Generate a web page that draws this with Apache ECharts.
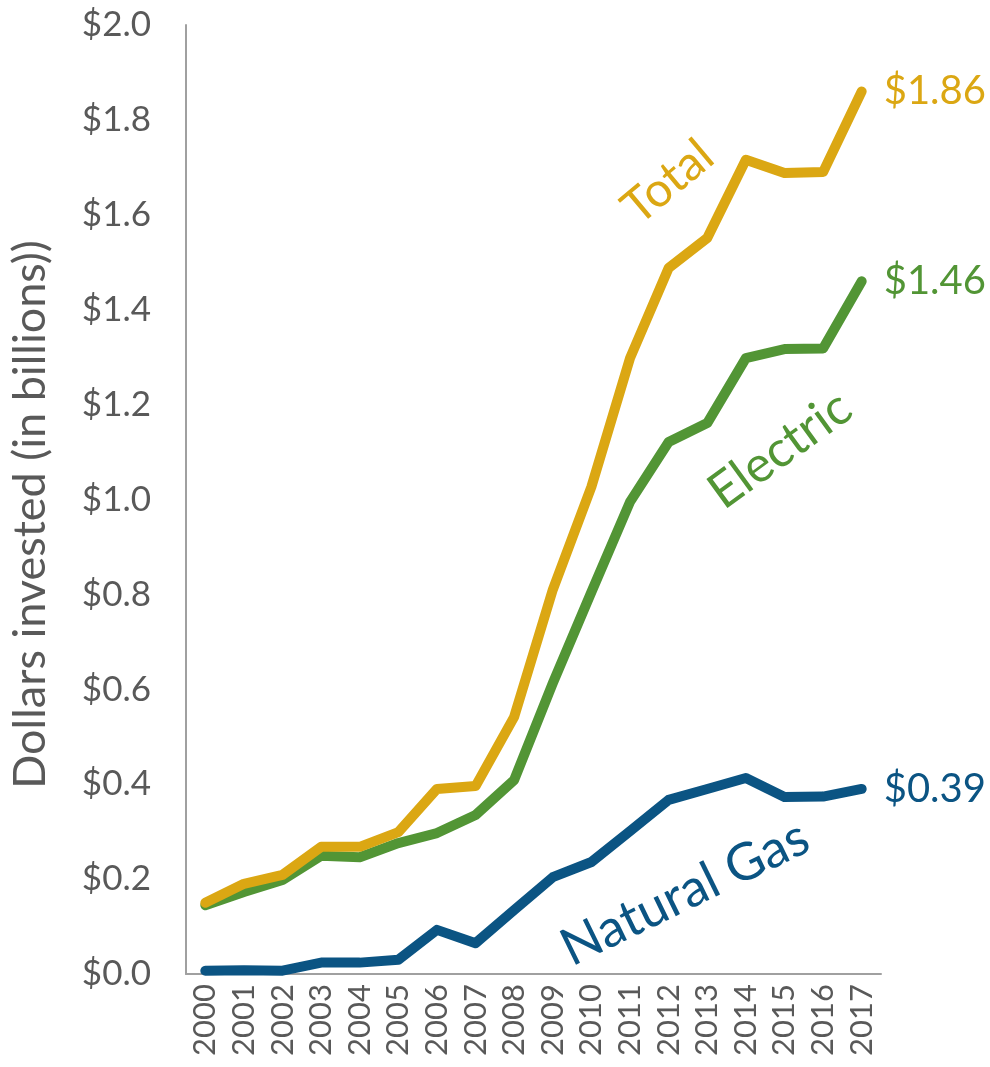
<!DOCTYPE html>
<html>
<head>
<meta charset="utf-8">
<script src="https://cdn.jsdelivr.net/npm/echarts@6/dist/echarts.min.js"></script>
<style>
html,body{margin:0;padding:0;background:#fff;}
#chart{width:990px;height:1067px;}
</style>
</head>
<body>
<div id="chart"></div>
<script>
const years = ['2000','2001','2002','2003','2004','2005','2006','2007','2008','2009','2010','2011','2012','2013','2014','2015','2016','2017'];
const naturalGas = [0.007,0.008,0.007,0.024,0.024,0.030,0.093,0.065,0.135,0.204,0.236,0.301,0.367,0.390,0.413,0.373,0.374,0.39];
const electric = [0.145,0.173,0.198,0.249,0.246,0.276,0.297,0.335,0.409,0.613,0.805,0.995,1.121,1.161,1.298,1.317,1.318,1.46];
const total = [0.150,0.190,0.209,0.268,0.268,0.299,0.390,0.396,0.542,0.810,1.027,1.298,1.488,1.551,1.716,1.688,1.690,1.86];
const yTicks = {min:0, max:2, interval:0.2};
const seriesNames = ['Natural Gas','Electric','Total'];

const FONT = 'Lato, "DejaVu Sans", sans-serif';
const GRAY = '#595959';
const C_GAS = '#0B5483';
const C_ELEC = '#529535';
const C_TOTAL = '#DBA713';

const chart = echarts.init(document.getElementById('chart'));
function mkSeries(name, data, color){
  return {
    name, type:'line', data, symbol:'none', smooth:false,
    lineStyle:{width:10, color, cap:'round', join:'round'},
    itemStyle:{color},
    endLabel:{show:true, formatter:p=>'$'+Number(p.value).toFixed(2), color, fontSize:40, fontFamily:FONT, distance:22},
    emphasis:{disabled:true}, animation:false
  };
}
chart.setOption({
  animation:false,
  grid:{left:185, right:109, top:25, bottom:93, containLabel:false},
  xAxis:{
    type:'category', data:years, boundaryGap:true,
    axisLine:{lineStyle:{color:'#A0A0A0', width:2}},
    axisTick:{show:false},
    axisLabel:{rotate:90, color:GRAY, fontSize:31, fontFamily:FONT, margin:10, interval:0}
  },
  yAxis:{
    type:'value', min:yTicks.min, max:yTicks.max, interval:yTicks.interval,
    name:'Dollars invested (in billions))', nameLocation:'middle', nameGap:133,
    nameTextStyle:{color:GRAY, fontSize:45, fontFamily:FONT, padding:[0,30,0,0]},
    axisLine:{show:true, lineStyle:{color:'#A0A0A0', width:2}},
    axisTick:{show:false}, splitLine:{show:false},
    axisLabel:{color:GRAY, fontSize:35, fontFamily:FONT, margin:35, formatter:v=>'$'+v.toFixed(1)}
  },
  series:[
    mkSeries(seriesNames[0], naturalGas, C_GAS),
    mkSeries(seriesNames[1], electric, C_ELEC),
    mkSeries(seriesNames[2], total, C_TOTAL)
  ],
  graphic:[
    {type:'text', x:668, y:182, rotation:40*Math.PI/180, style:{text:'Total', fill:C_TOTAL, font:'48px '+FONT, textAlign:'center', textVerticalAlign:'middle'}},
    {type:'text', x:780, y:450, rotation:36*Math.PI/180, style:{text:'Electric', fill:C_ELEC, font:'50px '+FONT, textAlign:'center', textVerticalAlign:'middle'}},
    {type:'text', x:685, y:893, rotation:26*Math.PI/180, style:{text:'Natural Gas', fill:C_GAS, font:'52px '+FONT, textAlign:'center', textVerticalAlign:'middle'}}
  ]
});
</script>
</body>
</html>
